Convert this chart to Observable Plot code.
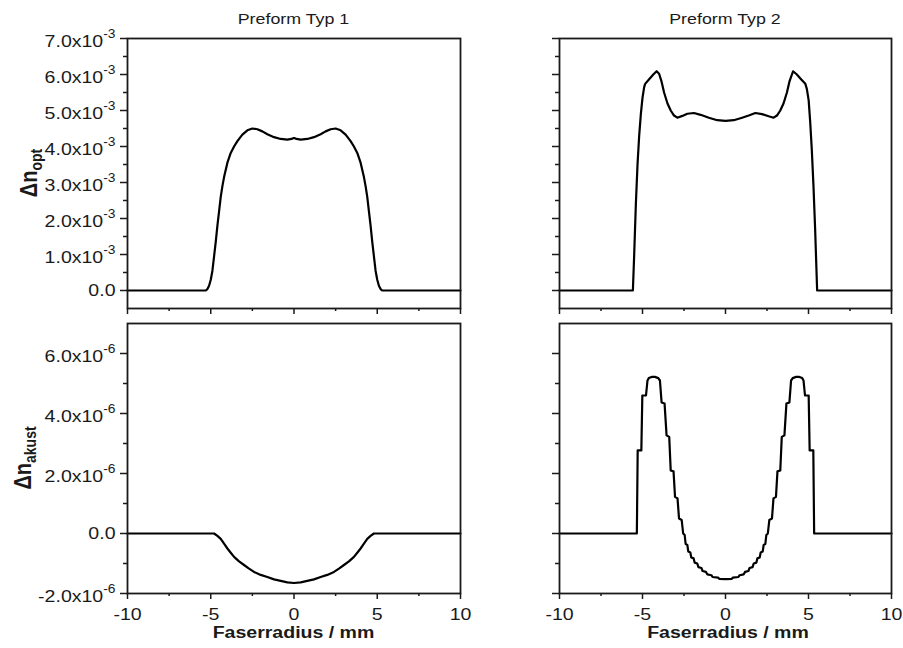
<!DOCTYPE html>
<html>
<head>
<meta charset="utf-8">
<script src="https://cdn.jsdelivr.net/npm/d3@7"></script>
<script src="https://cdn.jsdelivr.net/npm/@observablehq/plot@0.6"></script>
<style>
  html, body { margin: 0; padding: 0; background: #fff; }
  #fig { position: relative; width: 903px; height: 648px; background: #fff; overflow: hidden; }
  #fig > svg, #fig > figure { position: absolute; margin: 0; }
</style>
</head>
<body>
<div id="fig"></div>
<script>
// ---------- data ----------
const panelTitles = ["Preform Typ 1", "Preform Typ 2"];
const xAxisTitle = "Faserradius / mm";

const xTicks = [-10, -5, 0, 5, 10];
const xTickLabels = ["-10", "-5", "0", "5", "10"];
const xMinorTicks = [-7.5, -2.5, 2.5, 7.5];

// optical index difference, units of 1e-3
const optTicks = [0, 1, 2, 3, 4, 5, 6, 7];
const optTickLabels = ["0.0", "1.0x10^-3", "2.0x10^-3", "3.0x10^-3", "4.0x10^-3", "5.0x10^-3", "6.0x10^-3", "7.0x10^-3"];
const optMinorTicks = [0.5, 1.5, 2.5, 3.5, 4.5, 5.5, 6.5];

// acoustic index difference, units of 1e-6
const akuTicks = [-2, 0, 2, 4, 6];
const akuTickLabels = ["-2.0x10^-6", "0.0", "2.0x10^-6", "4.0x10^-6", "6.0x10^-6"];
const akuMinorTicks = [-1, 1, 3, 5];

// Preform Typ 1 – Δn_opt (×1e-3)
const opt1X = [-10, -5.3, -5.2, -5.1, -5.0, -4.9, -4.8, -4.7, -4.6, -4.5, -4.4, -4.3, -4.2, -4.0, -3.8, -3.6, -3.4, -3.1, -2.8, -2.5, -2.2, -1.9, -1.6, -1.2, -0.8, -0.4, -0.15, -0.05, 0.05, 0.15, 0.4, 0.8, 1.2, 1.6, 1.9, 2.2, 2.5, 2.8, 3.1, 3.4, 3.6, 3.8, 4.0, 4.2, 4.3, 4.4, 4.5, 4.6, 4.7, 4.8, 4.9, 5.0, 5.1, 5.2, 5.3, 10];
const opt1Y = [0, 0, 0.04, 0.13, 0.3, 0.55, 0.95, 1.35, 1.8, 2.2, 2.6, 2.9, 3.15, 3.55, 3.82, 4.0, 4.15, 4.33, 4.45, 4.5, 4.48, 4.42, 4.34, 4.26, 4.21, 4.19, 4.21, 4.23, 4.23, 4.21, 4.19, 4.21, 4.26, 4.34, 4.42, 4.48, 4.5, 4.45, 4.33, 4.15, 4.0, 3.82, 3.55, 3.15, 2.9, 2.6, 2.2, 1.8, 1.35, 0.95, 0.55, 0.3, 0.13, 0.04, 0, 0];

// Preform Typ 2 – Δn_opt (×1e-3)
const opt2X = [-10, -5.58, -5.5, -5.4, -5.3, -5.2, -5.1, -5.0, -4.9, -4.84, -4.6, -4.35, -4.15, -4.0, -3.85, -3.7, -3.5, -3.3, -3.1, -2.9, -2.6, -2.3, -1.9, -1.5, -1.0, -0.5, 0, 0.5, 1.0, 1.4, 1.8, 2.2, 2.6, 2.9, 3.1, 3.3, 3.5, 3.7, 3.85, 4.07, 4.3, 4.55, 4.81, 4.9, 5.01, 5.1, 5.2, 5.3, 5.4, 5.52, 10];
const opt2Y = [0, 0, 1.0, 2.4, 3.5, 4.3, 4.9, 5.35, 5.65, 5.74, 5.87, 6.0, 6.09, 6.02, 5.8, 5.5, 5.2, 5.0, 4.86, 4.8, 4.85, 4.91, 4.93, 4.88, 4.8, 4.73, 4.71, 4.73, 4.8, 4.86, 4.93, 4.9, 4.84, 4.8, 4.86, 5.0, 5.2, 5.5, 5.8, 6.09, 6.0, 5.87, 5.74, 5.6, 5.28, 4.7, 3.9, 2.9, 1.7, 0, 0];

// Preform Typ 1 – Δn_akust (×1e-6)
const aku1X = [-10, -4.8, -4.6, -4.4, -4.2, -4.0, -3.8, -3.6, -3.3, -3.0, -2.7, -2.4, -2.0, -1.6, -1.2, -0.8, -0.4, 0, 0.4, 0.8, 1.2, 1.6, 2.0, 2.4, 2.7, 3.0, 3.3, 3.6, 3.8, 4.0, 4.2, 4.4, 4.6, 4.8, 10];
const aku1Y = [0, 0, -0.08, -0.18, -0.34, -0.5, -0.64, -0.78, -0.93, -1.05, -1.17, -1.28, -1.38, -1.45, -1.53, -1.58, -1.63, -1.65, -1.63, -1.58, -1.53, -1.45, -1.38, -1.28, -1.17, -1.05, -0.93, -0.78, -0.64, -0.5, -0.34, -0.18, -0.08, 0, 0];

// Preform Typ 2 – Δn_akust (×1e-6)
const aku2X = [-10, -5.34, -5.29, -5.07, -5.01, -4.79, -4.70, -4.62, -4.45, -4.25, -4.05, -3.95, -3.85, -3.67, -3.55, -3.39, -3.30, -3.13, -3.04, -2.89, -2.80, -2.64, -2.55, -2.46, -2.40, -2.30, -2.24, -2.12, -2.06, -1.92, -1.86, -1.70, -1.63, -1.45, -1.38, -1.18, -1.10, -0.85, -0.78, -0.45, -0.38, 0,
  0.38, 0.45, 0.78, 0.85, 1.10, 1.18, 1.38, 1.45, 1.63, 1.70, 1.86, 1.92, 2.06, 2.12, 2.24, 2.30, 2.40, 2.46, 2.55, 2.64, 2.80, 2.89, 3.04, 3.13, 3.30, 3.39, 3.55, 3.67, 3.85, 3.95, 4.05, 4.25, 4.45, 4.62, 4.70, 4.79, 5.01, 5.07, 5.29, 5.34, 10];
const aku2Y = [0, 0, 2.77, 2.77, 4.6, 4.6, 5.1, 5.18, 5.22, 5.22, 5.18, 5.1, 4.37, 4.33, 3.27, 3.22, 2.1, 2.07, 1.22, 1.17, 0.5, 0.45, 0.0, -0.05, -0.35, -0.38, -0.6, -0.63, -0.8, -0.83, -0.97, -1.0, -1.12, -1.15, -1.25, -1.28, -1.36, -1.39, -1.45, -1.47, -1.51, -1.52,
  -1.51, -1.47, -1.45, -1.39, -1.36, -1.28, -1.25, -1.15, -1.12, -1.0, -0.97, -0.83, -0.8, -0.63, -0.6, -0.38, -0.35, -0.05, 0.0, 0.45, 0.5, 1.17, 1.22, 2.07, 2.1, 3.22, 3.27, 4.33, 4.37, 5.1, 5.18, 5.22, 5.22, 5.18, 5.1, 4.6, 4.6, 2.77, 2.77, 0, 0];

// ---------- drawing ----------
const FONT = "'Liberation Sans', Arial, Helvetica, sans-serif";
const INK = "#1a1a1a";
const S = 1.15; // horizontal text stretch of the original figure

const fig = document.getElementById("fig");

function makePanel(o) {
  const data = o.xs.map((x, i) => ({x, y: o.ys[i]}));
  const ylab = d => o.yLabels[o.yTicks.indexOf(d)] ?? "";
  const xlab = d => xTickLabels[xTicks.indexOf(d)] ?? "";
  const svg = Plot.plot({
    width: o.width, height: o.height,
    marginLeft: o.ml, marginRight: o.mr, marginTop: o.mt, marginBottom: o.mb,
    style: {background: "transparent", fontFamily: FONT, fontSize: "17px", color: INK, overflow: "visible"},
    x: {domain: [-10, 10]},
    y: {domain: o.yDomain},
    marks: [
      Plot.axisY({ticks: o.yMinor, tickSize: 4, tickFormat: () => "", label: null, strokeWidth: 1.5}),
      Plot.axisY({ticks: o.yTicks, tickSize: 7, tickPadding: 5, tickFormat: o.showY ? ylab : () => "", label: null, strokeWidth: 1.5}),
      Plot.axisX({ticks: xMinorTicks, tickSize: 3, tickFormat: () => "", label: null, strokeWidth: 1.5}),
      Plot.axisX({ticks: xTicks, tickSize: 6, tickPadding: 8, tickFormat: o.showX ? xlab : () => "", label: null, strokeWidth: 1.5}),
      Plot.line(data, {x: "x", y: "y", stroke: "#000", strokeWidth: 2.2, strokeLinejoin: "round"}),
      Plot.frame({stroke: INK, strokeWidth: 1.8})
    ]
  });
  svg.style.left = o.left + "px";
  svg.style.top = o.top + "px";
  const ns = "http://www.w3.org/2000/svg";
  svg.querySelectorAll("text").forEach(el => {
    const s = el.textContent;
    const k = s.indexOf("^");
    if (k >= 0) {
      el.textContent = "";
      const a = document.createElementNS(ns, "tspan");
      a.textContent = s.slice(0, k);
      a.setAttribute("dy", "3.5");
      const b = document.createElementNS(ns, "tspan");
      b.textContent = s.slice(k + 1);
      b.setAttribute("dy", "-9");
      b.setAttribute("font-size", "12px");
      el.append(a, b);
    }
    const x = +el.getAttribute("x") || 0;
    const t = el.getAttribute("transform") || "";
    el.setAttribute("transform", `${t} translate(${x},0) scale(${S},1) translate(${-x},0)`);
  });
  fig.appendChild(svg);
}

makePanel({xs: opt1X, ys: opt1Y, yDomain: [-0.5, 7], yTicks: optTicks, yMinor: optMinorTicks, yLabels: optTickLabels, showY: true, showX: false,
  left: 0, top: 0, width: 470, height: 314, ml: 127, mr: 10, mt: 38, mb: 6});
makePanel({xs: opt2X, ys: opt2Y, yDomain: [-0.5, 7], yTicks: optTicks, yMinor: optMinorTicks, yLabels: optTickLabels, showY: false, showX: false,
  left: 470, top: 0, width: 433, height: 314, ml: 89, mr: 12, mt: 38, mb: 6});
makePanel({xs: aku1X, ys: aku1Y, yDomain: [-2, 7], yTicks: akuTicks, yMinor: akuMinorTicks, yLabels: akuTickLabels, showY: true, showX: true,
  left: 0, top: 314, width: 470, height: 334, ml: 127, mr: 10, mt: 9, mb: 55});
makePanel({xs: aku2X, ys: aku2Y, yDomain: [-2, 7], yTicks: akuTicks, yMinor: akuMinorTicks, yLabels: akuTickLabels, showY: false, showX: true,
  left: 470, top: 314, width: 433, height: 334, ml: 89, mr: 12, mt: 9, mb: 55});

// ---------- titles and axis labels ----------
const ov = d3.create("svg")
  .attr("width", 903).attr("height", 648)
  .style("left", "0px").style("top", "0px")
  .style("pointer-events", "none")
  .attr("font-family", FONT).attr("fill", INK);

[[293.5, panelTitles[0]], [725, panelTitles[1]]].forEach(([x, t]) => {
  ov.append("text").attr("text-anchor", "middle").attr("font-size", 15.5)
    .attr("transform", `translate(${x},24) scale(${S},1)`).text(t);
});

[[293.5], [728]].forEach(([x]) => {
  ov.append("text").attr("text-anchor", "middle").attr("font-size", 17).attr("font-weight", "bold")
    .attr("transform", `translate(${x},638) scale(${S},1)`).text(xAxisTitle);
});

function yLabel(x, y, sub) {
  const t = ov.append("text").attr("text-anchor", "middle").attr("font-weight", "bold")
    .attr("transform", `translate(${x},${y}) scale(${S},1) rotate(-90)`);
  t.append("tspan").attr("font-size", 20).text("Δn");
  t.append("tspan").attr("font-size", 14).attr("dy", 4).text(sub);
}
yLabel(37, 173, "opt");
yLabel(31, 458, "akust");

fig.appendChild(ov.node());
</script>
</body>
</html>
